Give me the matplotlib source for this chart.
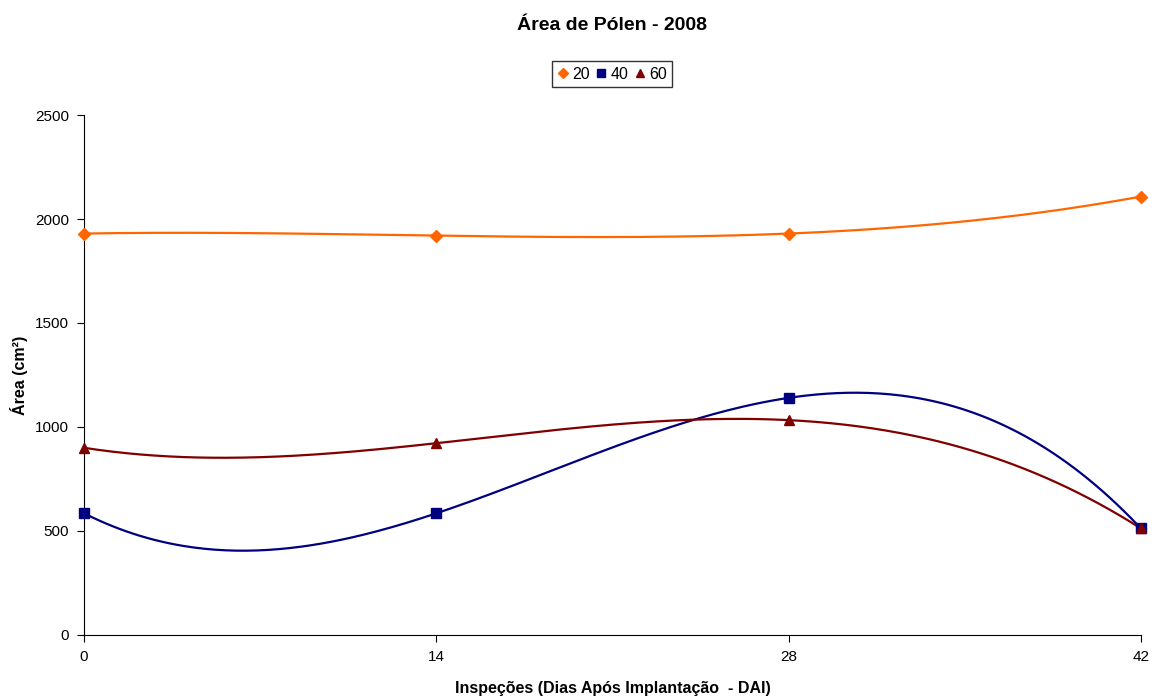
import matplotlib.pyplot as plt
import numpy as np

plt.rcParams['font.family'] = ['Liberation Sans', 'DejaVu Sans']

# Inspection days and mean pollen area per treatment
dias = [0, 14, 28, 42]
area_20 = [1930, 1920, 1930, 2108]
area_40 = [585, 585, 1140, 512]
area_60 = [900, 922, 1033, 512]

series = [
    ('20', area_20, '#FF6600', 'D', 6),
    ('40', area_40, '#000080', 's', 7),
    ('60', area_60, '#800000', '^', 7),
]

fig = plt.figure(figsize=(11.56, 7.0), dpi=100)
ax = fig.add_axes([0.0727, 0.0929, 0.9143, 0.7428])

xs = np.linspace(dias[0], dias[-1], 300)
handles = []
for nome, vals, cor, mk, ms in series:
    # smooth curve through the four inspections
    coef = np.polyfit(dias, vals, 3)
    ax.plot(xs, np.polyval(coef, xs), color=cor, lw=1.6, clip_on=False)
    h, = ax.plot(dias, vals, linestyle='none', marker=mk, color=cor,
                 markersize=ms, label=nome, clip_on=False, zorder=3)
    handles.append(h)

ax.set_xlim(0, 42)
ax.set_ylim(0, 2500)
ax.set_xticks(dias)
ax.set_yticks(range(0, 2501, 500))
ax.spines['top'].set_visible(False)
ax.spines['right'].set_visible(False)
ax.tick_params(direction='out', length=5, labelsize=11, pad=6)

ax.set_xlabel('Inspeções (Dias Após Implantação  - DAI)', fontsize=11.5,
              fontweight='bold', labelpad=12)
ax.set_ylabel('Área (cm²)', fontsize=11.5, fontweight='bold', labelpad=5)
fig.text(0.5294, 0.964, 'Área de Pólen - 2008', ha='center', va='center',
         fontsize=14, fontweight='bold')

leg = fig.legend(handles=handles, loc='center', bbox_to_anchor=(0.5294, 0.894),
                 ncol=3, fontsize=11.5, frameon=True, fancybox=False,
                 handlelength=0.7, handletextpad=0.2, columnspacing=0.4,
                 borderpad=0.35, markerscale=0.9)
leg.get_frame().set_edgecolor('black')
leg.get_frame().set_linewidth(1.0)

fig.savefig('out.png', dpi=100)
